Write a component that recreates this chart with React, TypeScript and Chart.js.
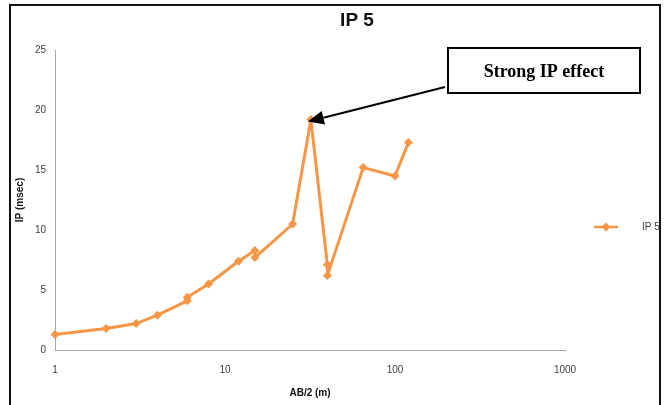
import React, { useEffect, useRef } from "react";
import { Chart, registerables } from "chart.js";

Chart.register(...registerables);

const xValues = [1, 2, 3, 4, 6, 6, 8, 12, 15, 15, 25, 32, 40, 40, 65, 100, 120];
const yValues = [1.3, 1.8, 2.2, 2.9, 4.1, 4.4, 5.5, 7.4, 8.3, 7.7, 10.5, 19.2, 7.1, 6.2, 15.2, 14.5, 17.3];
const xTicks = [1, 10, 100, 1000];
const yTicks = [0, 5, 10, 15, 20, 25];
const seriesName = "IP 5";
const chartTitle = "IP 5";
const xTitle = "AB/2 (m)";
const yTitle = "IP (msec)";
const annotationText = "Strong IP effect";
const peakIndex = 11;

const ORANGE = "#F79646";
const TEXT = "#404040";

const extras = {
  id: "extras",
  afterDraw(chart: any) {
    const ctx = chart.ctx;
    const xs = chart.scales.x;
    const ys = chart.scales.y;
    const ca = chart.chartArea;
    ctx.save();
    // outer frame
    ctx.strokeStyle = "#111";
    ctx.lineWidth = 2;
    ctx.strokeRect(10, 5, 650, 520);

    // title
    ctx.fillStyle = "#111";
    ctx.font = "bold 19px 'Liberation Sans', Arial, sans-serif";
    ctx.textAlign = "center";
    ctx.textBaseline = "middle";
    ctx.fillText(chartTitle, 357, 21);

    // axis titles
    ctx.font = "bold 10px 'Liberation Sans', Arial, sans-serif";
    ctx.fillText(xTitle, (ca.left + ca.right) / 2, 393);
    ctx.save();
    ctx.translate(20, (ca.top + ca.bottom) / 2);
    ctx.rotate(-Math.PI / 2);
    ctx.fillText(yTitle, 0, 0);
    ctx.restore();

    // legend
    const ly = 227;
    ctx.strokeStyle = ORANGE;
    ctx.lineWidth = 2.5;
    ctx.beginPath();
    ctx.moveTo(594, ly);
    ctx.lineTo(618, ly);
    ctx.stroke();
    ctx.fillStyle = ORANGE;
    ctx.beginPath();
    ctx.moveTo(606, ly - 4.5);
    ctx.lineTo(610.5, ly);
    ctx.lineTo(606, ly + 4.5);
    ctx.lineTo(601.5, ly);
    ctx.closePath();
    ctx.fill();
    ctx.fillStyle = TEXT;
    ctx.font = "10px 'Liberation Sans', Arial, sans-serif";
    ctx.textAlign = "left";
    ctx.fillText(seriesName, 642, ly);

    // annotation box
    ctx.fillStyle = "#fff";
    ctx.fillRect(448, 48, 192, 45);
    ctx.strokeStyle = "#000";
    ctx.lineWidth = 2;
    ctx.strokeRect(448, 48, 192, 45);
    ctx.fillStyle = "#000";
    ctx.font = "bold 18px 'Liberation Serif', 'DejaVu Serif', serif";
    ctx.textAlign = "center";
    ctx.fillText(annotationText, 544, 72);

    // arrow to peak
    const tx = xs.getPixelForValue(xValues[peakIndex]) - 3;
    const ty = ys.getPixelForValue(yValues[peakIndex]) + 2;
    const sx = 445;
    const sy = 87;
    const ang = Math.atan2(ty - sy, tx - sx);
    const headLen = 16;
    const headW = 7;
    const bx = tx - headLen * Math.cos(ang);
    const by = ty - headLen * Math.sin(ang);
    ctx.strokeStyle = "#000";
    ctx.lineWidth = 2;
    ctx.beginPath();
    ctx.moveTo(sx, sy);
    ctx.lineTo(bx, by);
    ctx.stroke();
    ctx.beginPath();
    ctx.moveTo(tx, ty);
    ctx.lineTo(bx + headW * Math.sin(ang), by - headW * Math.cos(ang));
    ctx.lineTo(bx - headW * Math.sin(ang), by + headW * Math.cos(ang));
    ctx.closePath();
    ctx.fill();
    ctx.restore();
  },
};

export default function App() {
  const ref = useRef<HTMLCanvasElement>(null);
  useEffect(() => {
    if (!ref.current) return;
    const data = xValues.map((x, i) => ({ x, y: yValues[i] }));
    const chart = new Chart(ref.current, {
      type: "scatter",
      data: {
        datasets: [
          {
            label: seriesName,
            data,
            showLine: true,
            borderColor: ORANGE,
            backgroundColor: ORANGE,
            borderWidth: 3,
            borderJoinStyle: "round",
            borderCapStyle: "round",
            pointStyle: "rectRot",
            pointRadius: 4.5,
            pointBorderWidth: 0,
            clip: false as any,
          } as any,
        ],
      },
      options: {
        animation: false,
        responsive: false,
        devicePixelRatio: 1,
        layout: { padding: { left: 0, top: 50, right: 102, bottom: 0 } },
        plugins: { legend: { display: false }, title: { display: false }, tooltip: { enabled: false } },
        scales: {
          x: {
            type: "logarithmic",
            min: 1,
            max: 1000,
            afterBuildTicks: (s: any) => {
              s.ticks = xTicks.map((v) => ({ value: v }));
            },
            afterFit: (s: any) => {
              s.height = 55;
            },
            grid: { display: false, drawTicks: false },
            border: { display: true, color: "#a6a6a6", width: 1 },
            ticks: {
              padding: 14,
              color: TEXT,
              font: { family: "'Liberation Sans', Arial, sans-serif", size: 10 },
              autoSkip: false,
              maxRotation: 0,
              callback: (v: any) => String(v),
            },
          },
          y: {
            min: 0,
            max: 25,
            afterBuildTicks: (s: any) => {
              s.ticks = yTicks.map((v) => ({ value: v }));
            },
            afterFit: (s: any) => {
              s.width = 55;
            },
            grid: { display: false, drawTicks: false },
            border: { display: true, color: "#a6a6a6", width: 1 },
            ticks: {
              padding: 9,
              color: TEXT,
              font: { family: "'Liberation Sans', Arial, sans-serif", size: 10 },
              callback: (v: any) => String(v),
            },
          },
        },
      } as any,
      plugins: [extras],
    });
    return () => chart.destroy();
  }, []);
  return (
    <div style={{ position: "absolute", left: 0, top: 0, width: 667, height: 405, background: "#fff" }}>
      <canvas ref={ref} width={667} height={405} style={{ display: "block" }} />
    </div>
  );
}
